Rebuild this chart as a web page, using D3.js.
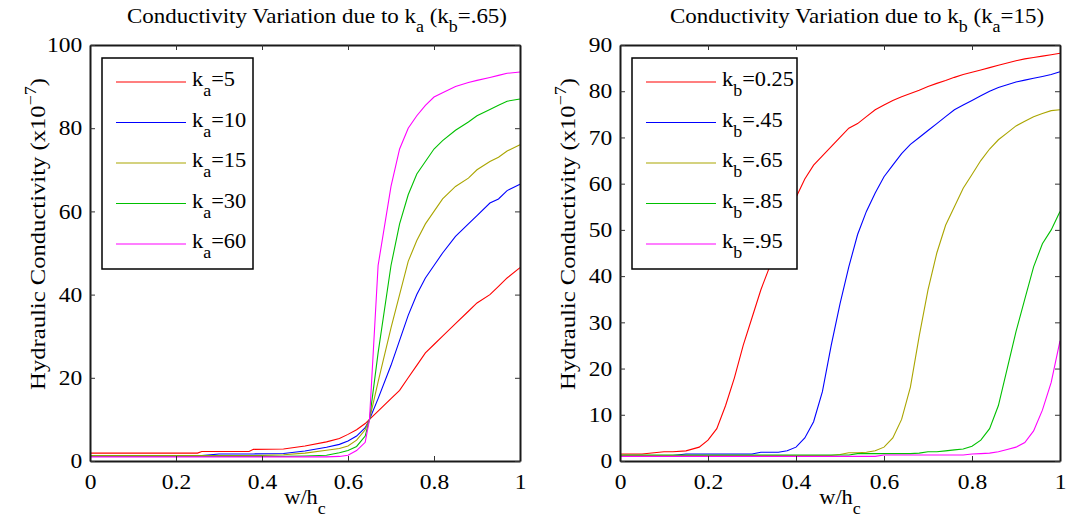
<!DOCTYPE html>
<html><head><meta charset="utf-8">
<script src="https://cdn.jsdelivr.net/npm/d3@7"></script>
<style>body{margin:0;background:#fff}</style>
</head><body><svg id="c" width="1067" height="526"></svg>
<script>
// ---- data: left panel (vary k_a, k_b=.65)
const xA = [0,0.1,0.2,0.25,0.26,0.3,0.37,0.38,0.45,0.5,0.55,0.58,0.6,0.62,0.64,0.65,0.67,0.7,0.72,0.74,0.76,0.78,0.8,0.82,0.85,0.88,0.9,0.93,0.95,0.97,1.0];
const kaLabels = ["5","10","15","30","60"];
const kaValues = [
  [1.9,1.9,1.9,1.9,2.3,2.3,2.3,2.8,2.9,3.6,4.6,5.4,6.4,7.5,9.0,10,12,15,17,20,23,26,28,30,33,36,38,40,42,44,46.5],
  [1.3,1.3,1.3,1.3,1.3,1.7,1.7,1.7,1.8,2.4,3.3,4.0,4.8,6.0,8.0,10,15,23,29,35,40,44,47,50,54,57,59,62,63,65,66.5],
  [1.3,1.3,1.3,1.3,1.3,1.3,1.3,1.3,1.5,1.9,2.6,3.0,3.6,5.0,7.5,10,19,32,40,48,53,57,60,63,66,68,70,72,73,74.5,76],
  [1.1,1.1,1.1,1.1,1.1,1.1,1.1,1.1,1.1,1.2,1.4,2.0,2.5,3.5,6.0,10,26,47,57,64,69,72,75,77,79.5,81.5,83,84.5,85.5,86.5,87],
  [1.0,1.0,1.0,1.0,1.0,1.0,1.0,1.0,1.0,1.0,1.0,1.1,1.4,2.5,4.5,10,47,66,75,80,83,85.5,87.5,88.5,90,91,91.5,92.2,92.7,93.2,93.5]
];
// ---- data: right panel (vary k_b, k_a=15)
const xB = [0,0.05,0.1,0.12,0.15,0.18,0.2,0.22,0.24,0.26,0.28,0.3,0.32,0.34,0.36,0.38,0.4,0.42,0.44,0.46,0.48,0.5,0.52,0.54,0.56,0.58,0.6,0.62,0.64,0.66,0.68,0.7,0.72,0.74,0.76,0.78,0.8,0.82,0.84,0.86,0.88,0.9,0.92,0.94,0.96,0.98,1.0];
const kbLabels = ["0.25",".45",".65",".85",".95"];
const kbValues = [
  [1.5,1.5,2.0,2.0,2.2,3.0,4.5,7,12,18,25,31,37,42,48,53,57,61,64,66,68,70,72,73,74.5,76,77,78,78.8,79.5,80.2,81,81.7,82.3,83,83.6,84.1,84.6,85.1,85.6,86.1,86.6,87,87.3,87.6,87.9,88.2],
  [1.2,1.2,1.2,1.2,1.5,1.5,1.5,1.5,1.5,1.5,1.5,1.5,1.9,1.9,1.9,2.2,3.0,5.0,8.5,15,25,34,42,49,54,58,61.5,64,66.5,68.5,70,71.5,73,74.5,76,77,78,79,80,80.8,81.4,82,82.4,82.8,83.2,83.6,84.2],
  [1.2,1.2,1.2,1.2,1.2,1.2,1.2,1.2,1.2,1.2,1.2,1.2,1.2,1.2,1.2,1.2,1.2,1.2,1.2,1.2,1.2,1.4,1.8,1.8,1.9,2.2,3.0,5.0,9.0,16,27,37,45,51,55,59,62,65,67.5,69.5,71,72.5,73.5,74.5,75.2,75.8,76],
  [1.3,1.3,1.3,1.3,1.3,1.3,1.3,1.3,1.3,1.3,1.3,1.3,1.3,1.3,1.3,1.3,1.3,1.3,1.3,1.3,1.3,1.3,1.3,1.6,1.6,1.6,1.6,1.6,1.6,1.6,1.7,2.0,2.0,2.2,2.4,2.6,3.2,4.5,7,12,20,28,35,42,47,50,54],
  [1.0,1.0,1.0,1.0,1.0,1.0,1.0,1.0,1.0,1.0,1.0,1.0,1.0,1.0,1.0,1.0,1.0,1.0,1.0,1.0,1.0,1.0,1.0,1.0,1.0,1.0,1.3,1.3,1.3,1.3,1.3,1.3,1.3,1.3,1.3,1.3,1.5,1.6,1.7,2.0,2.5,3.0,4.0,6.5,11,17,26]
];
const xTicks = [0,0.2,0.4,0.6,0.8,1];
const yTicksA = [0,20,40,60,80,100];
const yTicksB = [0,10,20,30,40,50,60,70,80,90];
const colors = ["#ff0000","#0000ff","#aaa500","#00c000","#ff00ff"];
const FONT = "'Liberation Serif'";
const SX = 1.12; // horizontal stretch of the original's text

const svg = d3.select("#c");

function txt(parent, x, y, size, anchor, rot){
  return parent.append("text")
    .attr("transform", `translate(${x},${y})` + (rot ? ` rotate(${rot})` : "") + ` scale(${SX},1)`)
    .attr("text-anchor", anchor || "start")
    .attr("font-family","Liberation Serif")
    .style("font-family", FONT).style("font-size", size + "px").attr("fill", "#000");
}

function panel(opt){
  const g = svg.append("g");
  const x = d3.scaleLinear().domain([0,1]).range([opt.x0, opt.x1]);
  const y = d3.scaleLinear().domain(opt.yDomain).range([opt.y1, opt.y0]);
  const line = d3.line().x(d=>x(d[0])).y(d=>y(d[1]));
  opt.values.forEach((vals,i)=>{
    g.append("path").datum(opt.xs.map((xx,j)=>[xx,vals[j]]))
      .attr("d",line).attr("fill","none").attr("stroke",colors[i]).attr("stroke-width",1.1);
  });
  const bottom = g.append("g").attr("transform",`translate(0,${opt.y1})`)
    .call(d3.axisBottom(x).tickValues(xTicks).tickFormat(d=>d===0||d===1?String(d):d3.format(".1f")(d)).tickSizeInner(-5).tickSizeOuter(0).tickPadding(13));
  const top = g.append("g").attr("transform",`translate(0,${opt.y0})`)
    .call(d3.axisTop(x).tickValues(xTicks).tickFormat("").tickSizeInner(-5).tickSizeOuter(0));
  const left = g.append("g").attr("transform",`translate(${opt.x0},0)`)
    .call(d3.axisLeft(y).tickValues(opt.yTicks).tickSizeInner(-5).tickSizeOuter(0).tickPadding(7));
  const right = g.append("g").attr("transform",`translate(${opt.x1},0)`)
    .call(d3.axisRight(y).tickValues(opt.yTicks).tickFormat("").tickSizeInner(-5).tickSizeOuter(0));
  [bottom,top,left,right].forEach(a=>{
    a.attr("font-family","Liberation Serif");
    a.select(".domain").attr("stroke","#1a1a1a").attr("stroke-width",2);
    a.selectAll(".tick line").attr("stroke","#333").attr("stroke-width",1);
    a.selectAll("text").style("font-family",FONT).style("font-size","21px").attr("fill","#000")
      .attr("transform",`scale(${SX},1)`);
  });
  // legend
  const lg = g.append("g");
  lg.append("rect").attr("x",opt.lx).attr("y",58).attr("width",opt.lw).attr("height",211)
    .attr("fill","#fff").attr("stroke","#000").attr("stroke-width",1.5);
  opt.labels.forEach((lab,i)=>{
    const yy = 82 + i*40.5;
    lg.append("line").attr("x1",opt.lx+14).attr("x2",opt.lx+84).attr("y1",yy).attr("y2",yy)
      .attr("stroke",colors[i]).attr("stroke-width",1.2);
    const t = txt(lg, opt.lx+90, yy+4, 20);
    t.append("tspan").text("k");
    t.append("tspan").attr("dy",10).style("font-size","16px").text(opt.sub);
    t.append("tspan").attr("dy",-10).text("="+lab);
  });
  // title
  const tt = txt(g, opt.tcx, 23, 20.5, "middle");
  opt.title.forEach(p=>{
    const s = tt.append("tspan").text(p[0]);
    if(p[1]) s.attr("dy",p[1]);
    if(p[2]) s.style("font-size",p[2]);
  });
  // x label
  const cx = (opt.x0+opt.x1)/2;
  const xl = txt(g, cx, 504, 20, "middle");
  xl.append("tspan").text("w/h");
  xl.append("tspan").attr("dy",10).style("font-size","16px").text("c");
  // y label
  const yl = txt(g, opt.ylx, 234, 22, "middle", -90);
  yl.append("tspan").text("Hydraulic Conductivity (x10");
  yl.append("tspan").attr("dy",-9).style("font-size","16px").text("−7");
  yl.append("tspan").attr("dy",9).text(")");
}

panel({x0:90,x1:520,y0:45,y1:461,yDomain:[0,100],yTicks:yTicksA,xs:xA,values:kaValues,
  labels:kaLabels,sub:"a",lx:102,lw:151,ylx:45,tcx:317,
  title:[["Conductivity Variation due to k"],["a",9,"16px"],[" (k",-9,"20.5px"],["b",9,"16px"],["=.65)",-9,"20.5px"]]});
panel({x0:620,x1:1060,y0:45,y1:461,yDomain:[0,90],yTicks:yTicksB,xs:xB,values:kbValues,
  labels:kbLabels,sub:"b",lx:632,lw:165,ylx:575,tcx:857,
  title:[["Conductivity Variation due to k"],["b",9,"16px"],[" (k",-9,"20.5px"],["a",9,"16px"],["=15)",-9,"20.5px"]]});
</script></body></html>
